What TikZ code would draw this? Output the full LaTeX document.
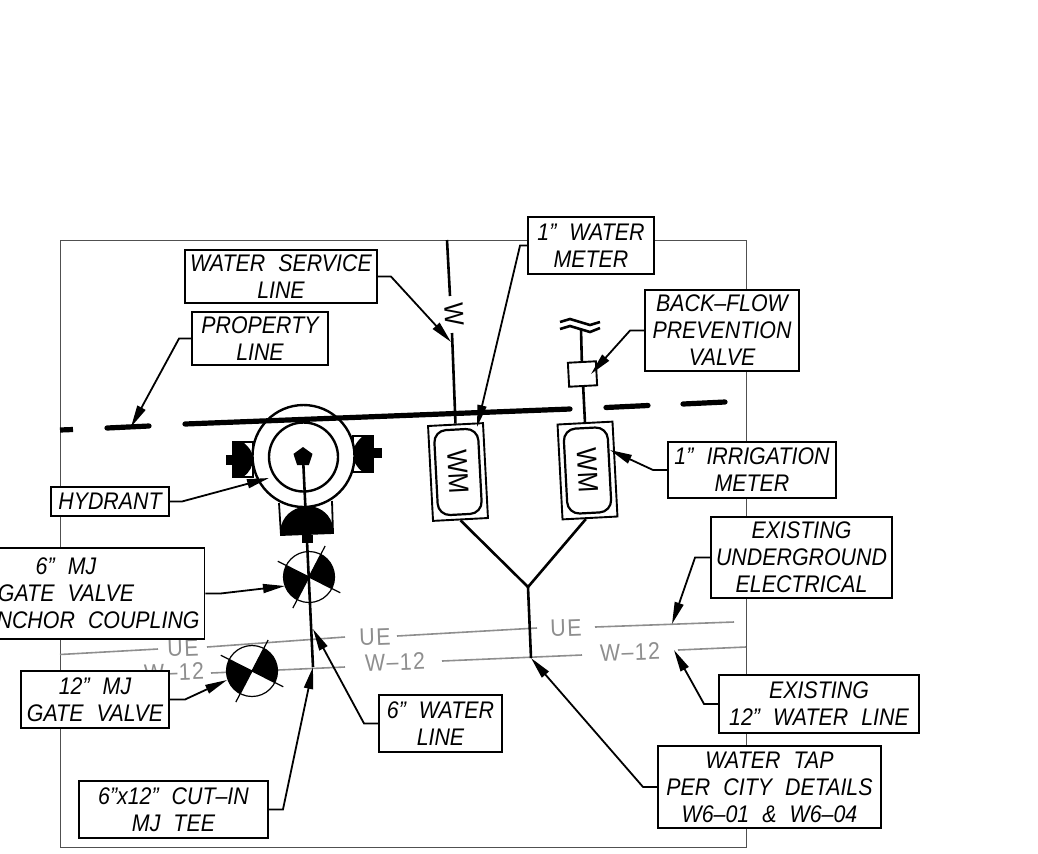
\documentclass[tikz,border=0pt]{standalone}
\usepackage{fontspec}
\setmainfont[FakeStretch=0.89,WordSpace=2.2]{Liberation Sans}
\newfontfamily\utilfont[FakeStretch=0.89,LetterSpace=6]{Liberation Sans}
\usetikzlibrary{arrows.meta,shapes.geometric}
\definecolor{framegray}{HTML}{505050}
\definecolor{utilgray}{HTML}{8E8E8E}
\tikzset{
  callout/.style={draw,line width=0.95pt,fill=white,inner sep=0pt,align=center,font=\fontsize{12}{13.5}\selectfont\itshape},
  leader/.style={draw,line width=0.9pt,-{Triangle[length=11pt,width=4.5pt]}},
  pipeline/.style={line width=1.3pt},
  propline/.style={line width=2.6pt,line cap=round},
  utilline/.style={utilgray,line width=0.8pt},
  utillabel/.style={utilgray,inner sep=0pt,rotate=2,font=\fontsize{12}{12}\utilfont},
  metercase/.style={draw,line width=0.95pt,inner sep=0pt,rotate=3,minimum width=27.5pt,minimum height=47.5pt},
  meterface/.style={draw,line width=1.1pt,rounded corners=6pt,inner sep=0pt,rotate=-87,minimum width=42.5pt,minimum height=22pt,font=\fontsize{14}{14}\selectfont}
}
\begin{document}
\begin{tikzpicture}[x=0.5pt,y=-0.5pt]
  \useasboundingbox (0,0) rectangle (1038,853);
  \draw[framegray,line width=0.5pt] (60,240) rectangle (746,847);

  % electrical and water main
  \draw[utilline] (60,654.5) -- (158,649);
  \node[utillabel] (uea) at (183,648) {UE};
  \draw[utilline] (207,647) -- (345,637);
  \node[utillabel] (ueb) at (375,637) {UE};
  \draw[utilline] (397,636) -- (537,628);
  \node[utillabel] (uec) at (566,628) {UE};
  \draw[utilline] (595,627) -- (734,622);
  \node[utillabel] (wa) at (174,672) {W–12};
  \draw[utilline] (211,673) -- (345,667);
  \node[utillabel] (wb) at (395,662) {W–12};
  \draw[utilline] (442,661) -- (582,655);
  \node[utillabel] (wc) at (630,652) {W–12};
  \draw[utilline] (678,650) -- (746,647);

  % hydrant
  \draw[line width=0.9pt] (279,503) -- (281,535) -- (333,533) -- (332,501);
  \draw[line width=0.9pt] (233,442) rectangle (253,477);
  \draw[line width=0.9pt] (353,436) rectangle (373,472);
  \fill (281,535) -- (281,526) .. controls (285,512) and (297,507) .. (307,506) .. controls (318,506) and (328,512) .. (332,523) -- (333,533) -- cycle;
  \fill (302,535) rectangle (313,543);
  \fill (233,442) -- (243,442) .. controls (250,448) and (253,453) .. (253,459) .. controls (253,466) and (250,472) .. (243,477) -- (233,477) -- cycle;
  \fill (226,455) rectangle (233,465);
  \fill (373,436) -- (363,436) .. controls (356,442) and (353,448) .. (353,454) .. controls (353,461) and (356,467) .. (363,472) -- (373,472) -- cycle;
  \fill (373,448) rectangle (382,458);
  \node[draw,circle,line width=1.2pt,fill=white,inner sep=0pt,minimum size=51pt] (hydrantbody) at (303.5,456) {};
  \node[draw,circle,line width=1.2pt,inner sep=0pt,minimum size=34.5pt] (hydrantbore) at (303.5,457) {};
  \node[regular polygon,regular polygon sides=5,fill=black,inner sep=0pt,minimum size=10pt] (hydrantcap) at (303,457) {};

  % gate valves
  \foreach \name/\cx/\cy in {valvesix/309/577,valvetwelve/252/671} {
    \begin{scope}[shift={(\cx,\cy)}]
      \node[draw,circle,line width=0.6pt,inner sep=0pt,minimum size=25.5pt,fill=white] (\name) at (0,0) {};
      \fill (0,0) -- (117.5:25.5) arc (117.5:206.8:25.5) -- cycle;
      \fill (0,0) -- (297.5:25.5) arc (297.5:386.8:25.5) -- cycle;
      \draw[line width=0.6pt] (206.8:35) -- (26.8:35);
      \draw[line width=0.6pt] (117.5:35) -- (297.5:35);
    \end{scope}
  }

  % coordinates for pipes and pointers
  \coordinate (servicetop) at (447,240);
  \coordinate (servicebreak) at (450,296);
  \coordinate (servicelow) at (452,333);
  \coordinate (irrigtop) at (581,329);
  \coordinate (wye) at (528,587);
  \coordinate (tap) at (531,658);
  \coordinate (cuttee) at (313,667);
  \coordinate (watertip) at (451,342);
  \coordinate (propertytip) at (131,427);
  \coordinate (metertip) at (477,427);
  \coordinate (backflowtip) at (591,374);
  \coordinate (irrigtip) at (610,450);
  \coordinate (electric) at (672,624);
  \coordinate (maintip) at (674,650);
  \coordinate (sixlinetip) at (313,629);
  \coordinate (hydranttip) at (269,478);
  \coordinate (sixvalvetip) at (285,586);
  \coordinate (twelvevalvetip) at (227,680);

  % meters
  \node[metercase] (meterone) at (458,472) {};
  \node[meterface] (faceone) at (458,472) {WM};
  \node[metercase] (metertwo) at (587.5,470.5) {};
  \node[meterface] (facetwo) at (587.5,470.5) {WM};
  \node[draw,line width=0.95pt,inner sep=0pt,rotate=3,minimum width=14pt,minimum height=12pt] (backflow) at (582.5,374) {};

  % pipes
  \draw[pipeline] (hydrantcap.center) -- (cuttee);
  \draw[pipeline] (servicetop) -- (servicebreak);
  \node[rotate=-87,inner sep=0pt,font=\fontsize{13.5}{13.5}\selectfont] (servicew) at (454,314) {W};
  \draw[pipeline] (servicelow) -- (meterone.north);
  \draw[pipeline] (irrigtop) -- (backflow.north);
  \draw[pipeline] (backflow.south) -- (metertwo.north);
  \draw[pipeline] (meterone.south) -- (wye);
  \draw[pipeline] (metertwo.-95) -- (wye);
  \draw[pipeline] (wye) -- (tap);
  \draw[pipeline] (560,322) -- (570,319) -- (590,325) -- (600,322);
  \draw[pipeline] (560,329) -- (570,326) -- (590,332) -- (600,328);

  % property line
  \draw[propline,line cap=butt] (60,430) -- (73,429.5);
  \draw[propline] (107,428) -- (149,426);
  \draw[propline] (185,424) -- (570,409);
  \draw[propline] (606,407.5) -- (648,405.5);
  \draw[propline] (683,404) -- (725,402);

  % labels
  \node[callout,minimum width=96pt,minimum height=26.5pt] (serviceline) at (281,276.5) {WATER SERVICE\\LINE};
  \node[callout,minimum width=68pt,minimum height=26.5pt] (propertyline) at (260,338.5) {PROPERTY\\LINE};
  \node[callout,minimum width=63pt,minimum height=28.5pt] (watermeter) at (591,245.5) {1" WATER\\METER};
  \node[callout,minimum width=77pt,minimum height=40.5pt] (backflowlabel) at (722,330.5) {BACK--FLOW\\PREVENTION\\VALVE};
  \node[callout,minimum width=84pt,minimum height=28pt] (irrigmeter) at (752,470) {1" IRRIGATION\\METER};
  \node[callout,minimum width=90.5pt,minimum height=40.5pt] (underground) at (801.5,557.5) {EXISTING\\UNDERGROUND\\ELECTRICAL};
  \node[callout,minimum width=100pt,minimum height=29pt] (twelveline) at (819,704) {EXISTING\\12" WATER LINE};
  \node[callout,minimum width=111.5pt,minimum height=41pt] (watertap) at (769.5,787) {WATER TAP\\PER CITY DETAILS\\W6--01 \& W6--04};
  \node[callout,minimum width=61.5pt,minimum height=28.5pt] (sixline) at (440.5,723.5) {6" WATER\\LINE};
  \node[callout,minimum width=94.5pt,minimum height=28.5pt] (cuttap) at (173.5,809.5) {6"x12" CUT--IN\\MJ TEE};
  \node[callout,minimum width=74pt,minimum height=28.5pt] (twelvevalve) at (95,699.5) {12" MJ\\GATE VALVE};
  \node[callout,minimum width=138.5pt,minimum height=45.5pt] (sixvalve) at (66,593.5) {6" MJ\\GATE VALVE\\\hspace*{25pt}ANCHOR COUPLING};
  \node[callout,minimum width=59pt,minimum height=14.5pt] (hydrantlabel) at (110,501.5) {HYDRANT};

  % pointers
  \draw[leader] (serviceline.east) -- ++(13,0) -- (watertip);
  \draw[leader] (propertyline.west) -- ++(-12,0) -- (propertytip);
  \draw[leader] (watermeter.west) -- ++(-7,0) -- (metertip);
  \draw[leader] (backflowlabel.west) -- ++(-14,0) -- (backflowtip);
  \draw[leader] (irrigmeter.west) -- ++(-14,0) -- (irrigtip);
  \draw[leader] (underground.west) -- ++(-15,0) -- (electric);
  \draw[leader] (twelveline.west) -- ++(-14,0) -- (maintip);
  \draw[leader] (watertap.west) -- ++(-14,0) -- (tap);
  \draw[leader] (sixline.west) -- ++(-14,0) -- (sixlinetip);
  \draw[leader] (cuttap.east) -- ++(14,0) -- (cuttee);
  \draw[leader] (twelvevalve.east) -- ++(15,0) -- (twelvevalvetip);
  \draw[leader] (sixvalve.east) -- ++(15,0) -- (sixvalvetip);
  \draw[leader] (hydrantlabel.east) -- ++(12,0) -- (hydranttip);
\end{tikzpicture}
\end{document}
